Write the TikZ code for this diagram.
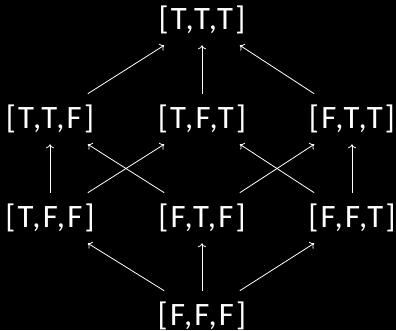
\documentclass[tikz,border=0pt]{standalone}
\usepackage{fontspec}
\setmainfont[LetterSpace=7]{Carlito}
\usetikzlibrary{arrows.meta}

\begin{document}
\begin{tikzpicture}[x=0.75pt, y=-0.75pt, font=\fontsize{24.5}{28}\selectfont,
  state/.style={text=white, inner sep=0pt, minimum height=37.5pt},
  edge/.style={white, line width=0.6pt, -{To[length=3pt, width=6pt]}}]
  \useasboundingbox[fill=black] (0,0) rectangle (396,330);
  % rows of the lattice
  \node[state] (TTT) at (202,20)  {\makebox[56.25pt]{[T,T,T]}};
  \node[state] (TTF) at (50,119)  {\makebox[56.25pt]{[T,T,F]}};
  \node[state] (TFT) at (202,119) {\makebox[56.25pt]{[T,F,T]}};
  \node[state] (FTT) at (352,119) {\makebox[56.25pt]{[F,T,T]}};
  \node[state] (TFF) at (50,218)  {\makebox[56.25pt]{[T,F,F]}};
  \node[state] (FTF) at (202,218) {\makebox[56.25pt]{[F,T,F]}};
  \node[state] (FFT) at (352,218) {\makebox[56.25pt]{[F,F,T]}};
  \node[state] (FFF) at (202,316) {\makebox[56.25pt]{[F,F,F]}};
  % top
  \draw[edge] (TTF.north east) -- (TTT.south west);
  \draw[edge] (TFT.north) -- (TTT.south);
  \draw[edge] (FTT.north west) -- (TTT.south east);
  % middle
  \draw[edge] (TFF.north) -- (TTF.south);
  \draw[edge] (TFF.north east) -- (TFT.south west);
  \draw[edge] (FTF.north west) -- (TTF.south east);
  \draw[edge] (FTF.north east) -- (FTT.south west);
  \draw[edge] (FFT.north west) -- (TFT.south east);
  \draw[edge] (FFT.north) -- (FTT.south);
  % bottom
  \draw[edge] (FFF.north west) -- (TFF.south east);
  \draw[edge] (FFF.north) -- (FTF.south);
  \draw[edge] (FFF.north east) -- (FFT.south west);
\end{tikzpicture}
\end{document}
